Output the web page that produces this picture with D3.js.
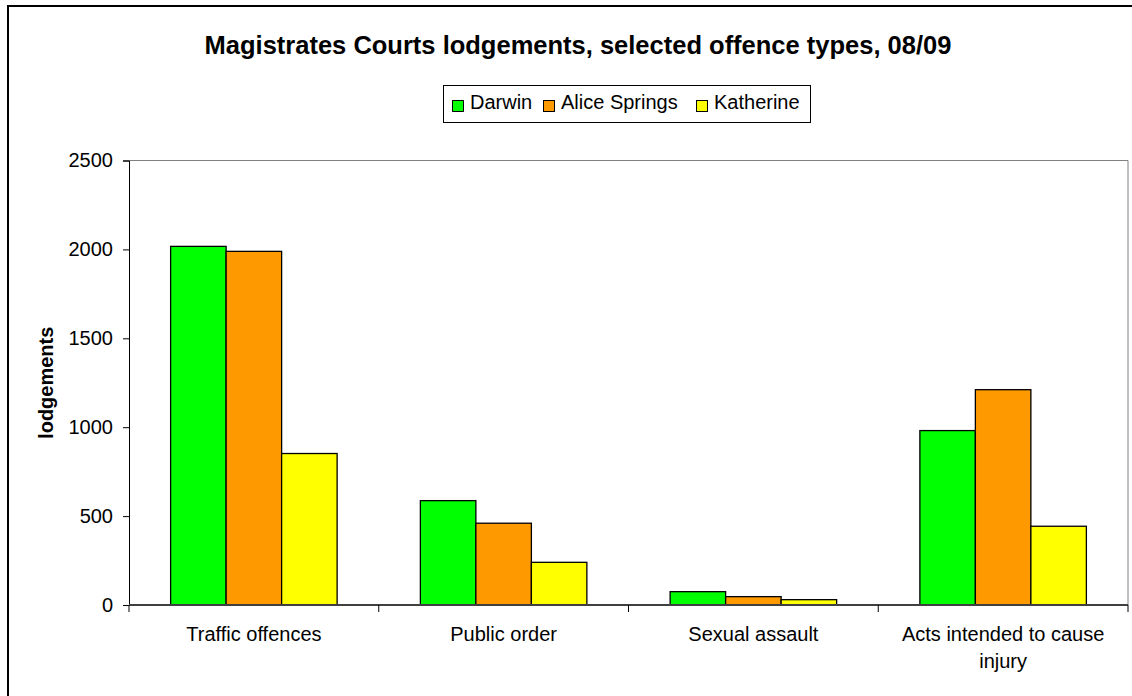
<!DOCTYPE html>
<html>
<head>
<meta charset="utf-8">
<script src="https://cdn.jsdelivr.net/npm/d3@7"></script>
<style>
  html, body { margin: 0; padding: 0; background: #fff; }
  svg { display: block; font-family: Arial, "Liberation Sans", sans-serif; }
</style>
</head>
<body>
<svg id="chart" width="1132" height="696"></svg>
<script>
// Offence categories (long labels wrap onto a second line)
const categories = ["Traffic offences", "Public order", "Sexual assault", "Acts intended to cause injury"];
const categoryLines = [["Traffic offences"], ["Public order"], ["Sexual assault"], ["Acts intended to cause", "injury"]];
const seriesNames = ["Darwin", "Alice Springs", "Katherine"];
const darwin = [2017, 587, 75, 981];
const aliceSprings = [1989, 460, 47, 1211];
const katherine = [852, 240, 30, 443];
const seriesColors = ["#00ff00", "#ff9900", "#ffff00"];
const yTicks = [0, 500, 1000, 1500, 2000, 2500];

const seriesValues = [darwin, aliceSprings, katherine];
const rows = categories.map((c, i) => ({
  category: c,
  values: seriesNames.map((s, j) => ({ series: s, value: seriesValues[j][i], color: seriesColors[j] }))
}));

const svg = d3.select("#chart");

// Outer chart frame
svg.append("rect")
  .attr("x", 8).attr("y", 6)
  .attr("width", 1140).attr("height", 700)
  .attr("fill", "#fff").attr("stroke", "#000").attr("stroke-width", 2);

const plot = { left: 129, right: 1128, top: 160.5, bottom: 605 };

const x = d3.scaleBand().domain(categories).range([plot.left, plot.right]).paddingInner(0).paddingOuter(0);
// gap between clusters equals 1.5 bar widths
const barW = x.bandwidth() / 4.5;
const xInner = d3.scaleBand().domain(seriesNames).range([0, barW * 3]);

const y = d3.scaleLinear().domain([0, 2500]).range([plot.bottom, plot.top]);

// Plot area border (top and right)
svg.append("path")
  .attr("d", `M${plot.left},${plot.top}H${plot.right}V${plot.bottom}`)
  .attr("fill", "none").attr("stroke", "#808080").attr("stroke-width", 1);

// Bars
const groups = svg.append("g").selectAll("g").data(rows).join("g")
  .attr("transform", d => `translate(${x(d.category) + barW * 0.75},0)`);

groups.selectAll("rect").data(d => d.values).join("rect")
  .attr("x", d => xInner(d.series))
  .attr("y", d => y(d.value))
  .attr("width", xInner.bandwidth())
  .attr("height", d => y(0) - y(d.value))
  .attr("fill", d => d.color)
  .attr("stroke", "#000").attr("stroke-width", 1.3);

// Y axis
const yAxis = svg.append("g")
  .attr("transform", `translate(${plot.left},0)`)
  .call(d3.axisLeft(y).tickValues(yTicks).tickSize(6).tickPadding(10).tickFormat(d3.format("d")));
yAxis.select(".domain").attr("stroke", "#000");
yAxis.selectAll(".tick line").attr("stroke", "#000");
yAxis.selectAll("text").attr("font-size", 20).attr("fill", "#000")
  .attr("font-family", "Arial, 'Liberation Sans', sans-serif");

// X axis line with boundary ticks
const xAxisG = svg.append("g");
xAxisG.append("line")
  .attr("x1", plot.left).attr("x2", plot.right)
  .attr("y1", plot.bottom).attr("y2", plot.bottom)
  .attr("stroke", "#404040").attr("stroke-width", 2);
const boundaries = categories.map(c => x(c)).concat([plot.right]);
xAxisG.selectAll("line.tk").data(boundaries).join("line")
  .attr("class", "tk")
  .attr("x1", d => d).attr("x2", d => d)
  .attr("y1", plot.bottom).attr("y2", plot.bottom + 7)
  .attr("stroke", "#000").attr("stroke-width", 1);

// Category labels
const labels = xAxisG.selectAll("text.cat").data(categories).join("text")
  .attr("class", "cat")
  .attr("text-anchor", "middle")
  .attr("font-size", 20)
  .attr("fill", "#000")
  .attr("transform", d => `translate(${x(d) + x.bandwidth() / 2},641)`);
labels.selectAll("tspan").data((d, i) => categoryLines[i]).join("tspan")
  .attr("x", 0)
  .attr("dy", (d, i) => i === 0 ? 0 : 27)
  .text(d => d);

// Y axis title
svg.append("text")
  .attr("transform", `translate(53,${(plot.top + plot.bottom) / 2}) rotate(-90)`)
  .attr("text-anchor", "middle")
  .attr("font-size", 20).attr("font-weight", "bold")
  .text("lodgements");

// Chart title
svg.append("text")
  .attr("x", 578).attr("y", 54)
  .attr("text-anchor", "middle")
  .attr("font-size", 25.5).attr("font-weight", "bold")
  .text("Magistrates Courts lodgements, selected offence types, 08/09");

// Legend
const legend = svg.append("g");
legend.append("rect")
  .attr("x", 443.5).attr("y", 85.5).attr("width", 367).attr("height", 37)
  .attr("fill", "#fff").attr("stroke", "#000").attr("stroke-width", 1);
const legendX = [452, 543, 696];
const items = legend.selectAll("g.item").data(seriesNames).join("g")
  .attr("class", "item")
  .attr("transform", (d, i) => `translate(${legendX[i]},109)`);
items.append("rect")
  .attr("x", 0.5).attr("y", -8.5).attr("width", 11).attr("height", 11)
  .attr("fill", (d, i) => seriesColors[i])
  .attr("stroke", "#000").attr("stroke-width", 1);
items.append("text")
  .attr("x", 18).attr("y", 0)
  .attr("font-size", 20)
  .text(d => d);
</script>
</body>
</html>
